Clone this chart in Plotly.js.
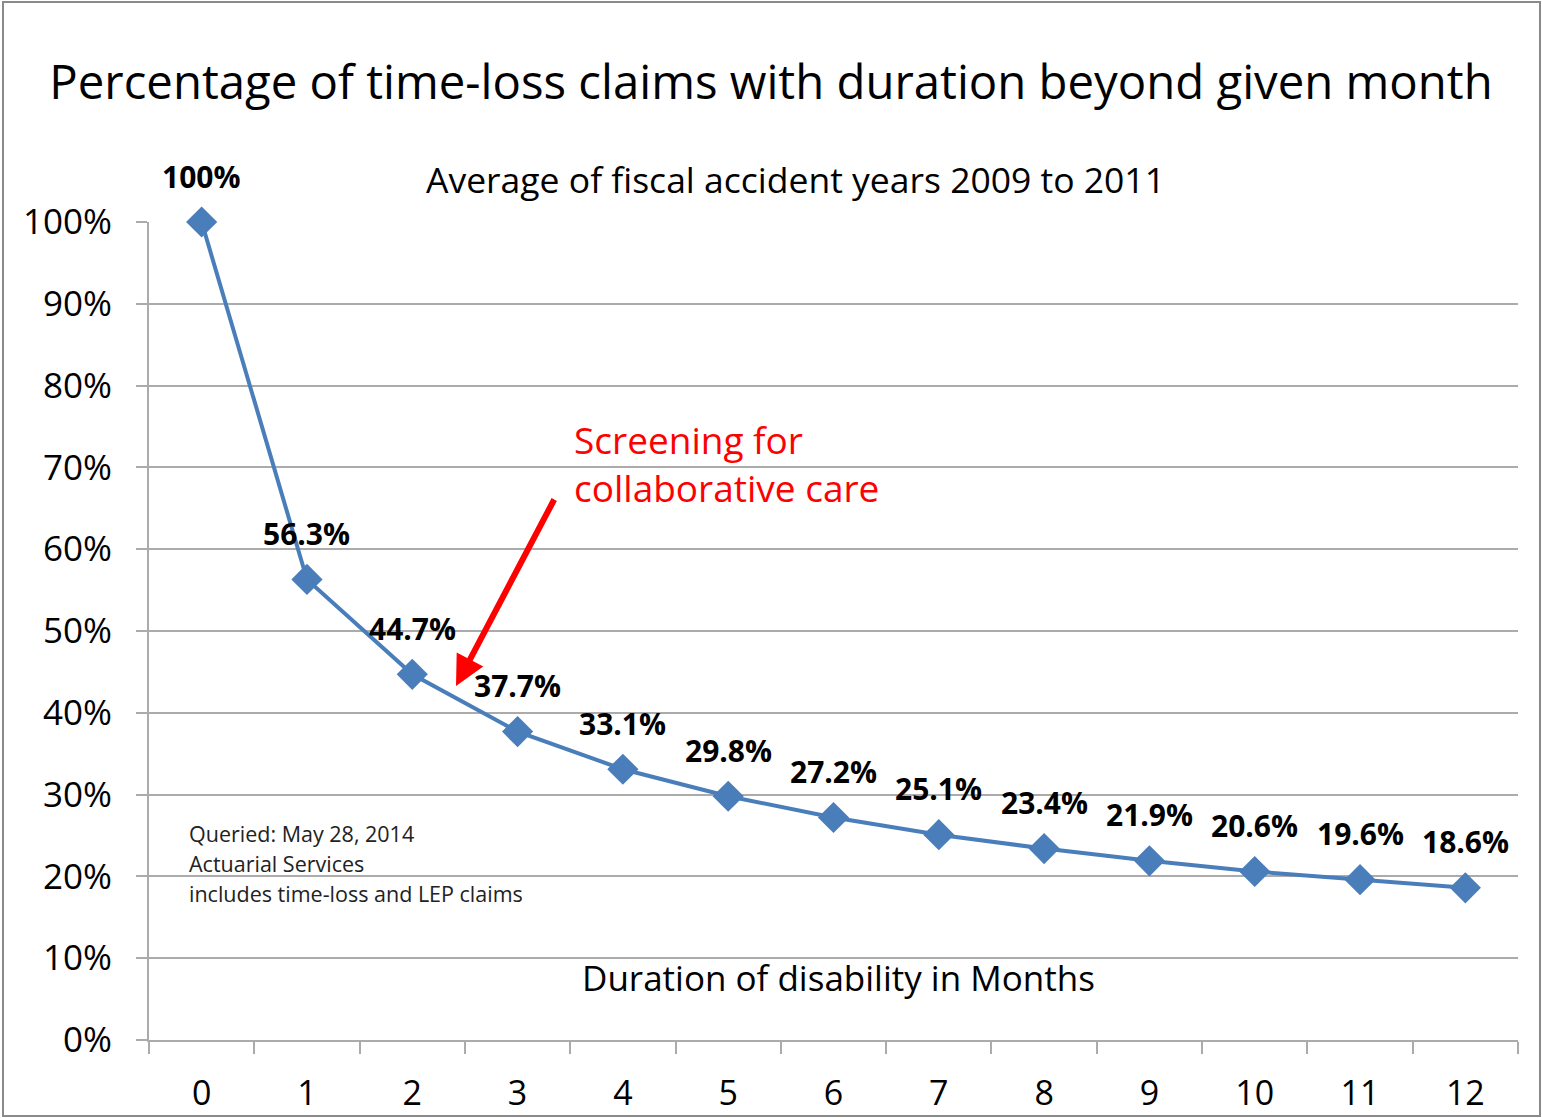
<!DOCTYPE html>
<html>
<head>
<meta charset="utf-8">
<script src="https://cdn.plot.ly/plotly-3.0.1.min.js"></script>
<style>
html,body{margin:0;padding:0;background:#fff;}
#chart{width:1542px;height:1118px;}
</style>
</head>
<body>
<div id="chart"></div>
<script>
const months = ['0','1','2','3','4','5','6','7','8','9','10','11','12'];
const pctBeyond = [100, 56.3, 44.7, 37.7, 33.1, 29.8, 27.2, 25.1, 23.4, 21.9, 20.6, 19.6, 18.6];
const pointLabels = ['100%','56.3%','44.7%','37.7%','33.1%','29.8%','27.2%','25.1%','23.4%','21.9%','20.6%','19.6%','18.6%'];
const yTickVals = [0,10,20,30,40,50,60,70,80,90,100];
const yTickText = ['0%','10%','20%','30%','40%','50%','60%','70%','80%','90%','100%'];

const titleText = 'Percentage of time-loss claims with duration beyond given month';
const subtitleText = 'Average of fiscal accident years 2009 to 2011';
const xAxisText = 'Duration of disability in Months';
const noteLines = ['Queried: May 28, 2014', 'Actuarial Services', 'includes time-loss and LEP claims'];
const calloutText = 'Screening for<br>collaborative care';

const FONT = 'Open Sans, Noto Sans, sans-serif';
const BLUE = '#4a7ebb';
const GRID = '#ababab';

const L = 149, R = 1518, T = 222, B = 1040, W = 1542, H = 1118;
const px = x => (x - L) / (R - L);
const py = y => (B - y) / (B - T);

const trace = {
  type: 'scatter',
  mode: 'lines+markers',
  x: months,
  y: pctBeyond,
  line: {color: BLUE, width: 4},
  marker: {symbol: 'diamond', size: 24, color: BLUE, line: {width: 0}},
  cliponaxis: false,
  hoverinfo: 'skip',
  showlegend: false
};

const annotations = [];
months.forEach((m, i) => {
  annotations.push({
    x: m, y: pctBeyond[i], xref: 'x', yref: 'y',
    text: '<b>' + pointLabels[i] + '</b>', showarrow: false,
    yshift: 46, xanchor: 'center', yanchor: 'middle',
    font: {family: FONT, size: 30, color: '#000'}
  });
});
annotations.push({
  x: px(795), y: py(179), xref: 'paper', yref: 'paper', text: subtitleText,
  showarrow: false, xanchor: 'center', yanchor: 'middle',
  font: {family: FONT, size: 35.5, color: '#000'}
});
annotations.push({
  x: px(838), y: py(977), xref: 'paper', yref: 'paper', text: xAxisText,
  showarrow: false, xanchor: 'center', yanchor: 'middle',
  font: {family: FONT, size: 35, color: '#000'}
});
noteLines.forEach((t, i) => {
  annotations.push({
    x: px(187), y: py(833 + i * 30), xref: 'paper', yref: 'paper', text: t,
    showarrow: false, xanchor: 'left', yanchor: 'middle',
    font: {family: FONT, size: 21.5, color: '#222'}
  });
});
annotations.push({
  x: px(572), y: py(463), xref: 'paper', yref: 'paper', text: calloutText,
  showarrow: false, xanchor: 'left', yanchor: 'middle', align: 'left',
  font: {family: FONT, size: 37, color: '#ff0000'}
});
annotations.push({
  x: px(456), y: py(686), xref: 'paper', yref: 'paper', text: '',
  showarrow: true, ax: 99, ay: -188, arrowcolor: '#ff0000',
  arrowwidth: 6, arrowhead: 2, arrowsize: 1, standoff: 0
});

const layout = {
  width: W, height: H,
  margin: {l: L, r: W - R, t: T, b: H - B, pad: 0},
  paper_bgcolor: '#fff', plot_bgcolor: '#fff',
  title: {text: titleText, x: 771 / W, xref: 'container', y: 1 - 82 / H, yref: 'container',
          xanchor: 'center', yanchor: 'middle',
          font: {family: FONT, size: 47.3, color: '#000'}},
  xaxis: {
    type: 'category', range: [-0.5, 12.5], tickson: 'boundaries',
    showgrid: false, showline: true, linecolor: GRID, linewidth: 2,
    ticks: 'outside', ticklen: 12, tickcolor: GRID, tickwidth: 2,
    ticklabelstandoff: 22,
    tickfont: {family: FONT, size: 34, color: '#000'},
    zeroline: false, fixedrange: true
  },
  yaxis: {
    range: [0, 100], tickmode: 'array', tickvals: yTickVals, ticktext: yTickText,
    showgrid: true, gridcolor: GRID, gridwidth: 2,
    showline: true, linecolor: GRID, linewidth: 2,
    ticks: 'outside', ticklen: 11, tickcolor: GRID, tickwidth: 2,
    ticklabelstandoff: 17,
    tickfont: {family: FONT, size: 35, color: '#000'},
    zeroline: false, fixedrange: true
  },
  shapes: [{
    type: 'rect', xref: 'paper', yref: 'paper',
    x0: px(3), x1: px(1540), y0: py(1116), y1: py(2),
    line: {color: '#8a8a8a', width: 2}, fillcolor: 'rgba(0,0,0,0)', layer: 'above'
  }],
  annotations: annotations
};

Plotly.newPlot('chart', [trace], layout, {displayModeBar: false, staticPlot: true});
</script>
</body>
</html>
